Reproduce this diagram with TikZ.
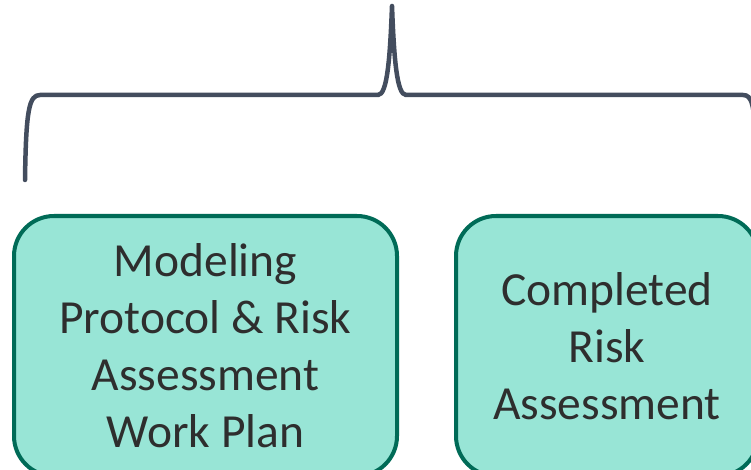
\documentclass[tikz,border=0pt]{standalone}
\usepackage{fontspec}
\setmainfont{Carlito}
\usepackage{tikz}
\usetikzlibrary{positioning}
\definecolor{boxfill}{HTML}{98E5D6}
\definecolor{boxline}{HTML}{006B57}
\definecolor{bracecol}{HTML}{434D5E}
\definecolor{textcol}{HTML}{2E2E2E}
\begin{document}
\begin{tikzpicture}[x=1pt,y=-1pt,
            deliverable/.style={draw=boxline,fill=boxfill,line width=4pt,rounded corners=40pt,
              align=center,text=textcol,font=\fontsize{47.5}{57}\selectfont,inner sep=0pt},
            brace/.style={draw=bracecol,line width=4.5pt,line cap=round,line join=round}
          ]
          \useasboundingbox (0,0) rectangle (751,470);

          %boxes
          \node[deliverable,minimum width=383pt,minimum height=260pt] (plan) at (205.5,346)
            {Modeling\\Protocol \& Risk\\Assessment\\Work Plan};
          \node[deliverable,minimum width=302pt,minimum height=260pt] (done) at (607,346)
            {Completed\\Risk\\Assessment};

          %brace
          \coordinate (tip) at (392,6);
          \draw[brace] (25,180) .. controls (26,110) and (29,95) .. (40,95)
            -- (378,95) .. controls (387,95) and (390,60) .. (tip)
            .. controls (394,60) and (397,95) .. (406,95)
            -- (743,95) .. controls (752,95) and (754,105) .. (756,140);
      \end{tikzpicture}
\end{document}
